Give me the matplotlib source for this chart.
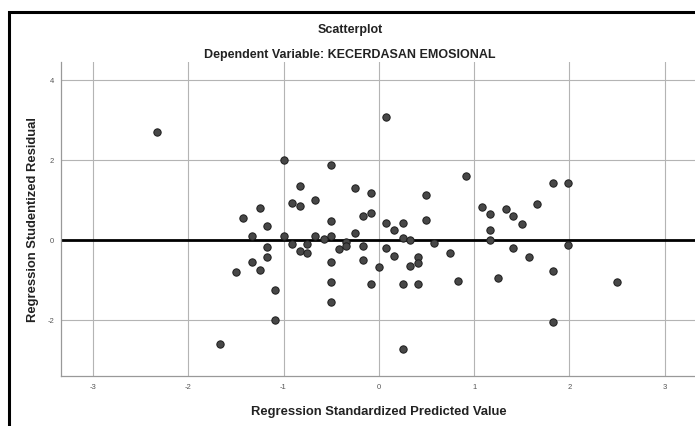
import matplotlib
matplotlib.use("Agg")
import matplotlib.pyplot as plt
from matplotlib.patches import Rectangle

# Regression standardized predicted value (x) vs studentized residual (y)
pred_values = [
    -2.33, -1.00, -0.50, -0.83, -1.25, -0.91, -0.83, -0.67, -1.42, -1.17,
    -0.50, -1.33, -1.00, -0.67, -0.58, -0.50, -0.91, -0.75, -0.34, -1.17,
    -0.83, -0.75, -0.42, -1.17, -1.33, -1.25, -1.50, -1.09, -0.50, -0.50,
    -0.50, -1.09, -1.67, 0.08, 0.92, -0.25, -0.08, 0.50, -0.17, -0.08,
    0.50, 0.08, 0.25, 0.16, -0.25, 0.25, 0.33, -0.34, -0.17, 0.08,
    0.58, 1.83, 1.99, 1.08, 1.17, 1.33, 1.41, 1.50, 1.66, 1.17,
    1.17, 1.99, 1.41, 1.58, 0.75, 0.16, 0.41, -0.17, 0.41, 0.33,
    0.00, -0.08, 0.25, 0.41, 0.83, 0.25, 1.83, 1.25, 2.50, 1.83,
]
resid_values = [
    2.70, 2.01, 1.88, 1.37, 0.81, 0.93, 0.87, 1.00, 0.55, 0.36,
    0.49, 0.11, 0.11, 0.12, 0.04, 0.12, -0.08, -0.08, -0.03, -0.16,
    -0.26, -0.32, -0.21, -0.41, -0.54, -0.73, -0.80, -1.24, -0.53, -1.03,
    -1.54, -2.00, -2.60, 3.09, 1.60, 1.31, 1.18, 1.14, 0.62, 0.68,
    0.51, 0.43, 0.43, 0.25, 0.18, 0.07, 0.01, -0.13, -0.13, -0.18,
    -0.07, 1.44, 1.44, 0.84, 0.66, 0.78, 0.60, 0.40, 0.91, 0.26,
    0.01, -0.12, -0.18, -0.42, -0.31, -0.38, -0.42, -0.50, -0.57, -0.64,
    -0.66, -1.10, -1.10, -1.10, -1.01, -2.72, -0.76, -0.95, -1.03, -2.05,
]

x_ticks = [-3, -2, -1, 0, 1, 2, 3]
y_ticks = [-2, 0, 2, 4]

FONT = "Liberation Sans"


def plotResiduals(save_name="out.png"):
    fig = plt.figure(figsize=(6.95, 4.26), dpi=100)

    # outer chart frame, runs off the right and bottom edges
    fig.patches.append(Rectangle((9 / 695, -0.05), 1.2, 1.05 - 12 / 426,
                                 transform=fig.transFigure, fill=False,
                                 edgecolor="black", linewidth=2.2))

    ax = fig.add_axes([61 / 695, 50 / 426, 634 / 695, 314 / 426])
    ax.set_xlim(-3.335, 3.318)
    ax.set_ylim(-3.39, 4.46)

    ax.set_xticks(x_ticks)
    ax.set_yticks(y_ticks)
    ax.set_xticklabels([str(t) for t in x_ticks], fontsize=5.5, color="#555555", family=FONT)
    ax.set_yticklabels([str(t) for t in y_ticks], fontsize=5.5, color="#555555", family=FONT)
    ax.tick_params(axis="x", length=0, pad=6)
    ax.tick_params(axis="y", length=0, pad=5)
    ax.grid(True, color="#b4b4b4", linewidth=0.8)
    ax.set_axisbelow(True)

    for side in ["top", "right"]:
        ax.spines[side].set_visible(False)
    for side in ["left", "bottom"]:
        ax.spines[side].set_color("#999999")
        ax.spines[side].set_linewidth(0.9)

    ax.axhline(0, color="black", linewidth=2.0, zorder=2)
    ax.scatter(pred_values, resid_values, s=28, facecolor="#474747",
               edgecolor="#1c1c1c", linewidth=0.7, zorder=3)

    ax.set_xlabel("Regression Standardized Predicted Value", fontsize=9.4,
                  fontweight="bold", family=FONT, color="#222222", va="center")
    ax.set_ylabel("Regression Studentized Residual", fontsize=9.4,
                  fontweight="bold", family=FONT, color="#222222", va="center")
    ax.xaxis.set_label_coords(0.5008, -0.1146)
    ax.yaxis.set_label_coords(-0.0442, 0.497)

    fig.text(350 / 695, 1 - 30 / 426, "Scatterplot", ha="center", va="center",
             fontsize=9, fontweight="bold", family=FONT, color="#222222")
    fig.text(350 / 695, 1 - 55 / 426, "Dependent Variable: KECERDASAN EMOSIONAL",
             ha="center", va="center", fontsize=9, fontweight="bold",
             family=FONT, color="#222222")

    fig.savefig(save_name, dpi=100)


def main():
    plotResiduals("out.png")


if __name__ == "__main__":
    main()
